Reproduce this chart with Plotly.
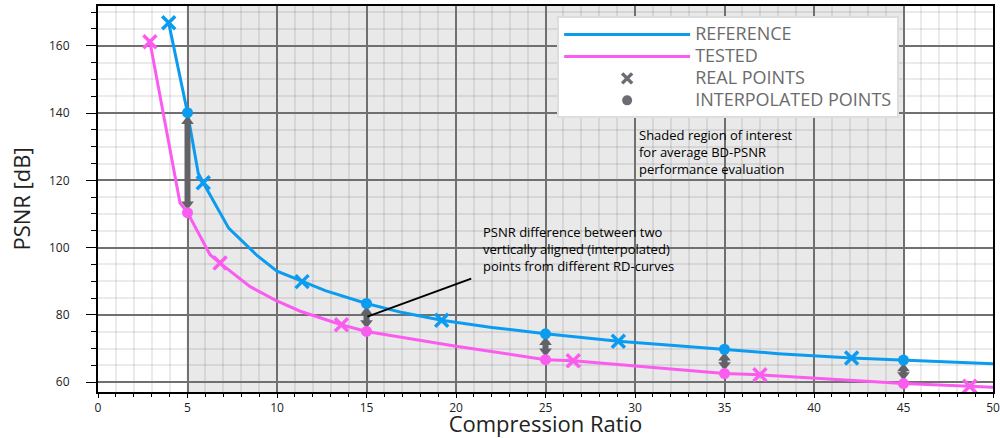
import plotly.graph_objects as go

# ---------------- data ----------------
ref_curve_x = [3.95, 5.0, 5.6, 5.88, 7.3, 8.9, 10.0, 11.4, 12.7, 15.0, 17.0, 19.2, 22.0, 25.0, 29.07, 32.0, 35.0, 38.0, 42.1, 45.0, 50.0]
ref_curve_y = [166.8, 140.1, 122.1, 119.3, 105.8, 97.6, 93.0, 89.9, 87.2, 83.4, 80.7, 78.4, 76.3, 74.4, 72.2, 71.0, 69.8, 68.5, 67.2, 66.6, 65.5]

test_curve_x = [2.9, 4.58, 5.0, 6.26, 6.82, 8.5, 9.9, 11.3, 13.6, 15.0, 20.0, 25.0, 26.55, 30.0, 35.0, 36.98, 40.0, 45.0, 48.7, 50.0]
test_curve_y = [161.2, 113.3, 110.4, 97.9, 95.4, 88.4, 84.4, 81.1, 77.1, 75.1, 70.7, 66.7, 66.4, 64.8, 62.6, 62.2, 61.2, 59.6, 58.8, 58.5]

ref_real_x = [3.95, 5.88, 11.4, 19.2, 29.07, 42.1]
ref_real_y = [166.8, 119.3, 89.9, 78.4, 72.2, 67.2]
test_real_x = [2.9, 6.82, 13.6, 26.55, 36.98, 48.7]
test_real_y = [161.2, 95.4, 77.1, 66.4, 62.2, 58.8]

interp_x = [5, 15, 25, 35, 45]
ref_interp_y = [140.1, 83.4, 74.4, 69.8, 66.6]
test_interp_y = [110.4, 75.1, 66.7, 62.6, 59.6]

region_start, region_end = 5, 45
pointer_start = (15.05, 79.5)
pointer_end = (20.85, 90.8)

x_tick_vals = [0, 5, 10, 15, 20, 25, 30, 35, 40, 45, 50]
y_tick_vals = [60, 80, 100, 120, 140, 160]

legend_names = ["REFERENCE", "TESTED", "REAL POINTS", "INTERPOLATED POINTS"]

BLUE = "#0b9cf0"
PINK = "#fb5cf0"
GRAY = "#616368"
FONT = "Open Sans"

Y_RANGE = [57.1, 171.8]
PLOT_H = 438 - 6 - 46
UNIT = (Y_RANGE[1] - Y_RANGE[0]) / PLOT_H   # data units per pixel


def lg(name):
    return '<span style="font-size:18px">' + name + '</span>'


fig = go.Figure()

# legend-bearing line traces
fig.add_trace(go.Scatter(x=ref_curve_x, y=ref_curve_y, mode="lines", name=lg(legend_names[0]),
                         line=dict(color=BLUE, width=3)))
fig.add_trace(go.Scatter(x=test_curve_x, y=test_curve_y, mode="lines", name=lg(legend_names[1]),
                         line=dict(color=PINK, width=3)))
# legend-only marker entries
fig.add_trace(go.Scatter(x=[None], y=[None], mode="markers", name=lg(legend_names[2]),
                         marker=dict(symbol="x-thin", size=10, color="#6b6d72", line=dict(color="#6b6d72", width=3.5))))
fig.add_trace(go.Scatter(x=[None], y=[None], mode="markers", name=lg(legend_names[3]),
                         marker=dict(symbol="circle", size=10, color="#6b6d72")))

# double arrows between interpolated points (shaft + heads)
head_size = 11
tip_gap = 3 * UNIT                 # tips stop ~3px inside the point centres
head_off = tip_gap + (head_size / 2) * UNIT
shaft_x, shaft_y = [], []
for xi, yt, yb in zip(interp_x, ref_interp_y, test_interp_y):
    shaft_x += [xi, xi, None]
    shaft_y += [yt - head_off, yb + head_off, None]
fig.add_trace(go.Scatter(x=shaft_x, y=shaft_y, mode="lines", showlegend=False, hoverinfo="skip",
                         line=dict(color=GRAY, width=6)))
fig.add_trace(go.Scatter(x=interp_x, y=[yt - head_off for yt in ref_interp_y], mode="markers",
                         showlegend=False, hoverinfo="skip",
                         marker=dict(symbol="triangle-up", size=head_size, color=GRAY)))
fig.add_trace(go.Scatter(x=interp_x, y=[yb + head_off for yb in test_interp_y], mode="markers",
                         showlegend=False, hoverinfo="skip",
                         marker=dict(symbol="triangle-down", size=head_size, color=GRAY)))

# real points
fig.add_trace(go.Scatter(x=ref_real_x, y=ref_real_y, mode="markers", showlegend=False,
                         marker=dict(symbol="x-thin", size=13, color=BLUE, line=dict(color=BLUE, width=3.5))))
fig.add_trace(go.Scatter(x=test_real_x, y=test_real_y, mode="markers", showlegend=False,
                         marker=dict(symbol="x-thin", size=13, color=PINK, line=dict(color=PINK, width=3.5))))
# interpolated points
fig.add_trace(go.Scatter(x=interp_x, y=ref_interp_y, mode="markers", showlegend=False,
                         marker=dict(symbol="circle", size=11, color=BLUE)))
fig.add_trace(go.Scatter(x=interp_x, y=test_interp_y, mode="markers", showlegend=False,
                         marker=dict(symbol="circle", size=11, color=PINK)))

# shaded region
fig.add_shape(type="rect", xref="x", yref="paper", x0=region_start, x1=region_end, y0=0, y1=1,
              fillcolor="#e9e9e9", line_width=0, layer="below")
for xb in (region_start, region_end):
    fig.add_shape(type="line", xref="x", yref="paper", x0=xb, x1=xb, y0=0, y1=1,
                  line=dict(color="#f4eef4", width=2), layer="between")

# pointer line
fig.add_shape(type="line", xref="x", yref="y", x0=pointer_start[0], y0=pointer_start[1],
              x1=pointer_end[0], y1=pointer_end[1], line=dict(color="black", width=2))

fig.add_annotation(x=30.1, y=136.6, xref="x", yref="y", xanchor="left", yanchor="top", align="left",
                   showarrow=False,
                   text="Shaded region of interest<br>for average BD-PSNR<br>performance evaluation",
                   font=dict(family=FONT, size=13, color="black"))
fig.add_annotation(x=21.4, y=107.8, xref="x", yref="y", xanchor="left", yanchor="top", align="left",
                   showarrow=False,
                   text="PSNR difference between two<br>vertically aligned (interpolated)<br>points from different RD-curves",
                   font=dict(family=FONT, size=13, color="black"))

fig.update_layout(
    width=1000, height=438,
    margin=dict(l=98, r=7, t=6, b=46),
    paper_bgcolor="white", plot_bgcolor="white",
    font=dict(family=FONT, color="#222"),
    legend=dict(x=0.513, y=0.973, xanchor="left", yanchor="top", bgcolor="white",
                bordercolor="#dddddd", borderwidth=2, itemwidth=126,
                font=dict(family=FONT, size=14.6, color="#6b6b6b"), tracegroupgap=0),
)
fig.update_xaxes(
    range=[0, 50], tickvals=x_tick_vals, ticks="outside", ticklen=4, tickcolor="black",
    showline=True, linecolor="black", linewidth=2, mirror=True, automargin=False,
    showgrid=True, gridcolor="#707070", gridwidth=1.5, zeroline=False,
    tickfont=dict(family=FONT, size=12, color="#222"),
    title=dict(text="Compression Ratio", font=dict(family=FONT, size=22, color="#222"), standoff=9),
    minor=dict(dtick=1, showgrid=True, gridcolor="rgba(0,0,0,0.08)", gridwidth=1.5,
               ticks="outside", ticklen=3, tickcolor="black"),
)
fig.update_yaxes(
    range=Y_RANGE, tickvals=y_tick_vals, ticks="outside", ticklen=10, tickcolor="black",
    showline=True, linecolor="black", linewidth=2, mirror=True, automargin=False,
    showgrid=True, gridcolor="#707070", gridwidth=1.5, zeroline=False,
    tickfont=dict(family=FONT, size=12, color="#222"), ticklabelstandoff=14,
    title=dict(text="PSNR [dB]", font=dict(family=FONT, size=22, color="#222"), standoff=12),
    minor=dict(dtick=5, tick0=0, showgrid=True, gridcolor="rgba(0,0,0,0.08)", gridwidth=1.5,
               ticks="outside", ticklen=5, tickcolor="black"),
)

fig.write_html("out.html")
